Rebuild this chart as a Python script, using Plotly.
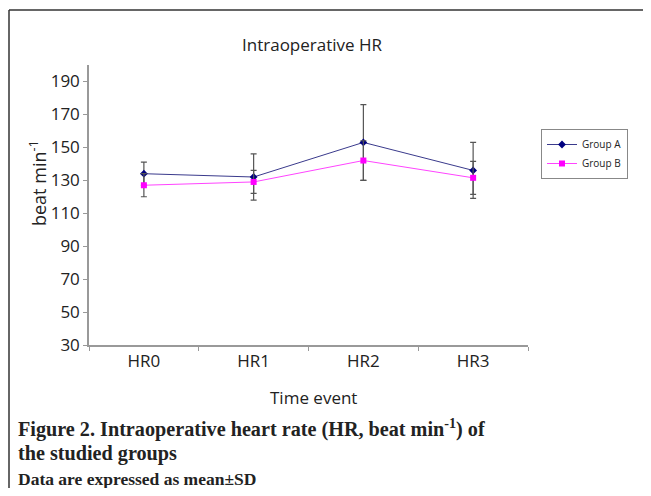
import plotly.graph_objects as go

categories = ["HR0", "HR1", "HR2", "HR3"]
group_a_mean = [134, 132, 153, 136]
group_a_sd = [7, 14, 23, 17]
group_b_mean = [127, 129, 142, 131.5]
group_b_sd = [7, 7, 12, 10]
y_ticks = [30, 50, 70, 90, 110, 130, 150, 170, 190]

# page body has an 8px default margin; figure is sized to fit the window
OFF = 8
W, H = 651 - OFF, 496 - 2 * OFF
# plot area in window pixels
L, R, T, B = 89, 528, 65, 345


def px(x):
    return (x - L) / (R - L)


def py(y):
    return (B - y) / (B - T)


fig = go.Figure()
fig.add_trace(go.Scatter(
    x=categories, y=group_a_mean, name="Group A", mode="lines+markers",
    line=dict(color="#3a3a8c", width=1),
    marker=dict(symbol="diamond", size=6, color="#000080"),
    error_y=dict(type="data", array=group_a_sd, visible=True, color="#555555", thickness=1.2, width=3),
))
fig.add_trace(go.Scatter(
    x=categories, y=group_b_mean, name="Group B", mode="lines+markers",
    line=dict(color="#ff44ff", width=1),
    marker=dict(symbol="square", size=6, color="#ff00ff"),
    error_y=dict(type="data", array=group_b_sd, visible=True, color="#555555", thickness=1.2, width=3),
))

font_sans = "Open Sans, Noto Sans, Arial, sans-serif"
serif = "Liberation Serif, DejaVu Serif, serif"

fig.update_layout(
    width=W, height=H,
    margin=dict(l=L - OFF, r=W - (R - OFF), t=T - OFF, b=H - (B - OFF), autoexpand=False),
    paper_bgcolor="white", plot_bgcolor="white",
    font=dict(family=font_sans, color="#222222", size=16),
    showlegend=True,
    legend=dict(x=px(541), y=py(129), xanchor="left", yanchor="top",
                bordercolor="#888888", borderwidth=1, bgcolor="white",
                font=dict(size=10, family=font_sans), itemwidth=30,
                tracegroupgap=0),
    xaxis=dict(type="category", range=[-0.5, 3.5], showline=True, linecolor="#999999",
               linewidth=1.5, ticks="outside", tickson="boundaries", ticklen=4,
               tickcolor="#999999", showgrid=False, zeroline=False,
               tickfont=dict(size=17), title=None),
    yaxis=dict(range=[30, 200], tickvals=y_ticks, showline=True, linecolor="#999999",
               linewidth=1.5, ticks="outside", ticklen=4, tickcolor="#999999",
               showgrid=False, zeroline=False, tickfont=dict(size=17), title=None),
)

annos = [
    dict(text="Intraoperative HR", x=px(312), y=py(44), font=dict(size=17)),
    dict(text="Time event", x=px(313), y=py(397), font=dict(size=17)),
    dict(text="beat min<sup>-1</sup>", x=px(38), y=py(183), textangle=-90, font=dict(size=18)),
]
for a in annos:
    fig.add_annotation(xref="paper", yref="paper", showarrow=False, xanchor="center",
                       yanchor="middle", **a)

caps = [
    ("<b>Figure 2. Intraoperative heart rate (HR, beat min<sup>-1</sup>) of</b>", 428, 20.2),
    ("<b>the studied groups</b>", 453, 20.2),
    ("<b>Data are expressed as mean±SD</b>", 479, 17.5),
]
for text, y, s in caps:
    fig.add_annotation(xref="paper", yref="paper", showarrow=False, xanchor="left",
                       yanchor="middle", x=px(16), y=py(y), text=text,
                       font=dict(family=serif, size=s, color="#222222"))

# open frame: top and left edges only run off the picture
fig.add_shape(type="line", xref="paper", yref="paper",
              x0=px(9), y0=py(10), x1=px(660), y1=py(10),
              line=dict(color="#333333", width=1.5))
fig.add_shape(type="line", xref="paper", yref="paper",
              x0=px(9), y0=py(10), x1=px(9), y1=py(540),
              line=dict(color="#333333", width=1.5))

fig.write_html("out.html")
